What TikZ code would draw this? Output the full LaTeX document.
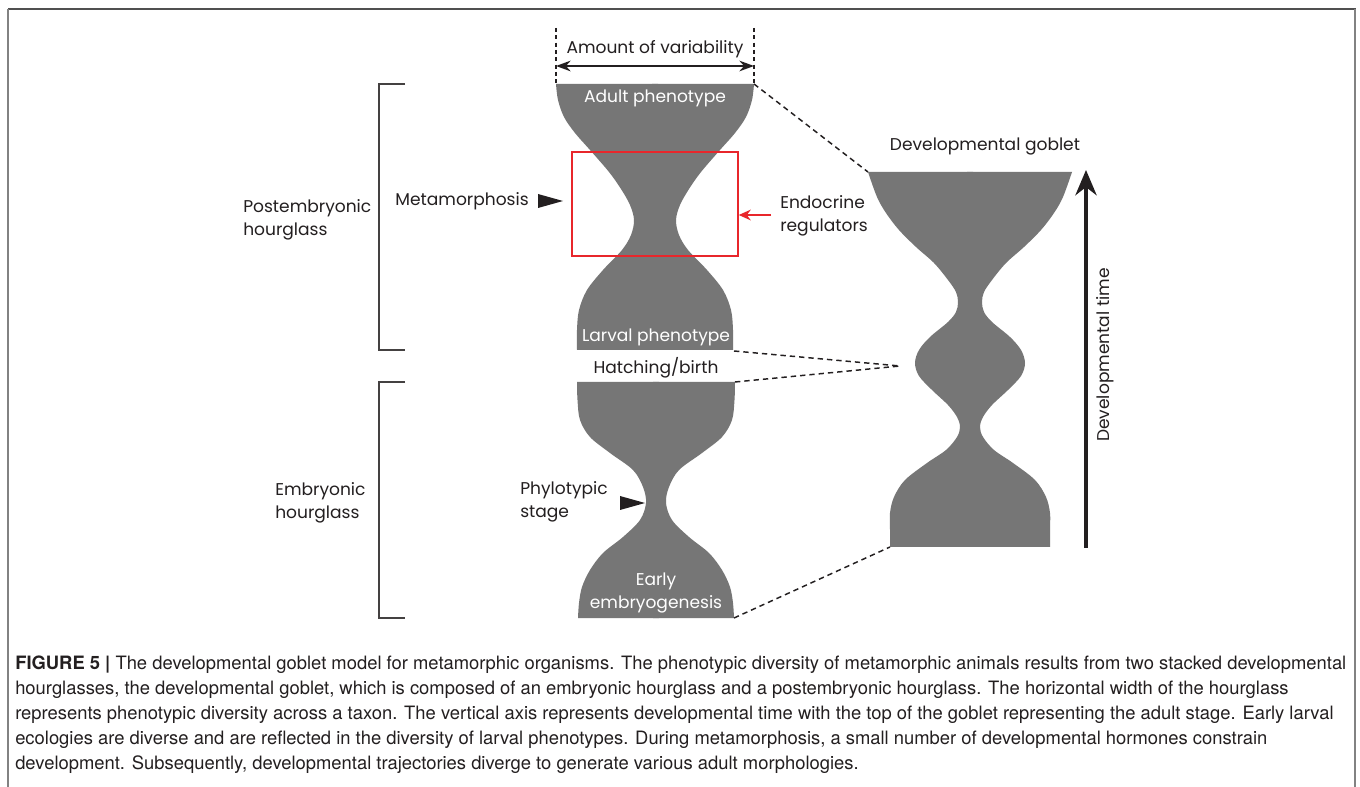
\documentclass[tikz,border=0pt]{standalone}
\usepackage{fontspec}
\newfontfamily\gfont{Poppins}
\newfontfamily\cfont{TeX Gyre Heros}
\usetikzlibrary{arrows.meta}
\definecolor{gob}{RGB}{118,118,118}
\definecolor{ink}{RGB}{35,31,32}
\definecolor{redbox}{RGB}{232,38,43}
\definecolor{framegray}{RGB}{80,80,80}
\definecolor{sidegray}{RGB}{130,130,130}
\newcommand\glassshape[4]{%
  \begin{scope}[shift={(#1,0)}]
    \fill[gob] (-3,#2) -- plot[smooth,tension=0.55] coordinates {#4} -- (-3,#3) -- cycle;
    \begin{scope}[xscale=-1]
      \fill[gob] (-3,#2) -- plot[smooth,tension=0.55] coordinates {#4} -- (-3,#3) -- cycle;
    \end{scope}
  \end{scope}}
\begin{document}
\begin{tikzpicture}[x=0.75pt,y=-0.75pt,
  lbl/.style={font=\gfont\fontsize{12.8}{17.5}\selectfont, text=ink, inner sep=0pt},
  wlbl/.style={lbl, text=white},
  captxt/.style={font=\cfont\fontsize{13.8}{16}\selectfont, text=ink, inner sep=0pt, anchor=base west},
  dashedline/.style={draw=ink, line width=1.1pt, dash pattern=on 4pt off 3pt},
  bracketline/.style={draw=ink!85, line width=1.1pt},
  tri/.style={fill=ink}]
\useasboundingbox (0,0) rectangle (1360,787);
\fill[white] (0,0) rectangle (1360,787);
% frame
\draw[framegray, line width=1.5pt] (8,9) -- (1356,9);
\draw[sidegray, line width=0.8pt] (8,9) -- (8,787);
\draw[sidegray, line width=1.6pt] (1355,9) -- (1355,787);

% shapes
\glassshape{655}{84}{350}{(99,84) (97,100) (91,117) (80,133) (65,150) (46,172) (34,189) (25,205) (21,220) (24,235) (33,250) (52,270) (68,290) (76,310) (78,330) (78,350)}
\glassshape{656}{382}{618}{(79,382) (78.5,400) (76,420) (66,437) (46,453) (23,470) (13,487) (10,503) (16,520) (33,537) (53,553) (66,570) (74,587) (77,603) (78,618)}
\glassshape{970}{172}{547}{(102,172) (93,197) (84,213) (71,230) (54,247) (36,263) (22,280) (14,292) (12,302) (14,312) (22,322) (40,337) (51,350) (55,363) (51,376) (38,390) (22,405) (13,417) (10,427) (13,437) (24,450) (43,463) (65,480) (76,497) (80,513) (80,530) (80,547)}

% named corners
\coordinate (adultTL) at (556,84);
\coordinate (adultTR) at (754,84);
\coordinate (larvBR) at (734,351);
\coordinate (hatchTR) at (735,382);
\coordinate (embBR) at (734,618);
\coordinate (gobTL) at (868,172);
\coordinate (gobMid) at (900,366);
\coordinate (gobBL) at (890,547);
\coordinate (varTL) at (556,28);
\coordinate (varTR) at (754,28);
\coordinate (arL) at (556,66);
\coordinate (arR) at (754,66);

% variability
\draw[dashedline, line width=1pt, dash pattern=on 3pt off 2.5pt] (varTL) -- (adultTL);
\draw[dashedline, line width=1pt, dash pattern=on 3pt off 2.5pt] (varTR) -- (adultTR);
\draw[ink, line width=1.3pt, {Stealth[length=11pt,width=8pt]}-{Stealth[length=11pt,width=8pt]}] (arL) -- (arR);
\node[lbl] (amount) at (655,49) {Amount of variability};

% connectors to goblet
\draw[dashedline] (adultTR) -- (gobTL);
\draw[dashedline] (larvBR) -- (gobMid);
\draw[dashedline] (hatchTR) -- (gobMid);
\draw[dashedline] (embBR) -- (gobBL);

% labels inside shapes
\node[wlbl] (adult) at (655,98) {Adult phenotype};
\node[wlbl] (larval) at (656,337) {Larval phenotype};
\node[wlbl, align=center] (early) at (656,593) {Early\\embryogenesis};
\node[lbl] (hatch) at (656,368) {Hatching/birth};
\node[lbl] (goblet) at (985,146) {Developmental goblet};

% red box and arrow
\node[draw=redbox, line width=1.1pt, minimum width=166*0.75pt, minimum height=104*0.75pt, inner sep=0pt] (meta) at (655,204) {};
\node[lbl, anchor=west, align=left] (endo) at (780,216) {Endocrine\\regulators};
\coordinate (redtail) at (771,215);
\draw[redbox, line width=1.8pt, -{Stealth[length=9pt,width=8pt]}] (redtail) -- (meta.east |- redtail);

% metamorphosis
\node[lbl, anchor=east] (metalbl) at (529,201) {Metamorphosis};
\fill[tri] (538,194) -- (563,201) -- (538,208) -- cycle;

% phylotypic
\node[lbl, anchor=west, align=left] (phylo) at (520,502) {Phylotypic\\stage};
\fill[tri] (620,496) -- (645,503) -- (620,510) -- cycle;

% brackets
\draw[bracketline] (405,84) -- (379,84) -- (379,350) -- (405,350);
\draw[bracketline] (405,382) -- (379,382) -- (379,618) -- (405,618);
\node[lbl, anchor=west, align=left] (post) at (243,220) {Postembryonic\\hourglass};
\node[lbl, anchor=west, align=left] (emb) at (275,503) {Embryonic\\hourglass};

% developmental time
\coordinate (tbot) at (1086,548);
\coordinate (ttop) at (1086,170);
\draw[ink, line width=2.4pt, -{Stealth[length=19pt,width=16pt]}] (tbot) -- (ttop);
\node[lbl, rotate=90] (devtime) at (1105,355) {Developmental time};

% caption
\node[captxt] (c1) at (15,669) {{\bfseries FIGURE 5 |} The developmental goblet model for metamorphic organisms. The phenotypic diversity of metamorphic animals results from two stacked developmental};
\node[captxt] (c2) at (15,694) {hourglasses, the developmental goblet, which is composed of an embryonic hourglass and a postembryonic hourglass. The horizontal width of the hourglass};
\node[captxt] (c3) at (15,719) {represents phenotypic diversity across a taxon. The vertical axis represents developmental time with the top of the goblet representing the adult stage. Early larval};
\node[captxt] (c4) at (15,744) {ecologies are diverse and are reflected in the diversity of larval phenotypes. During metamorphosis, a small number of developmental hormones constrain};
\node[captxt] (c5) at (15,769) {development. Subsequently, developmental trajectories diverge to generate various adult morphologies.};
\end{tikzpicture}
\end{document}
